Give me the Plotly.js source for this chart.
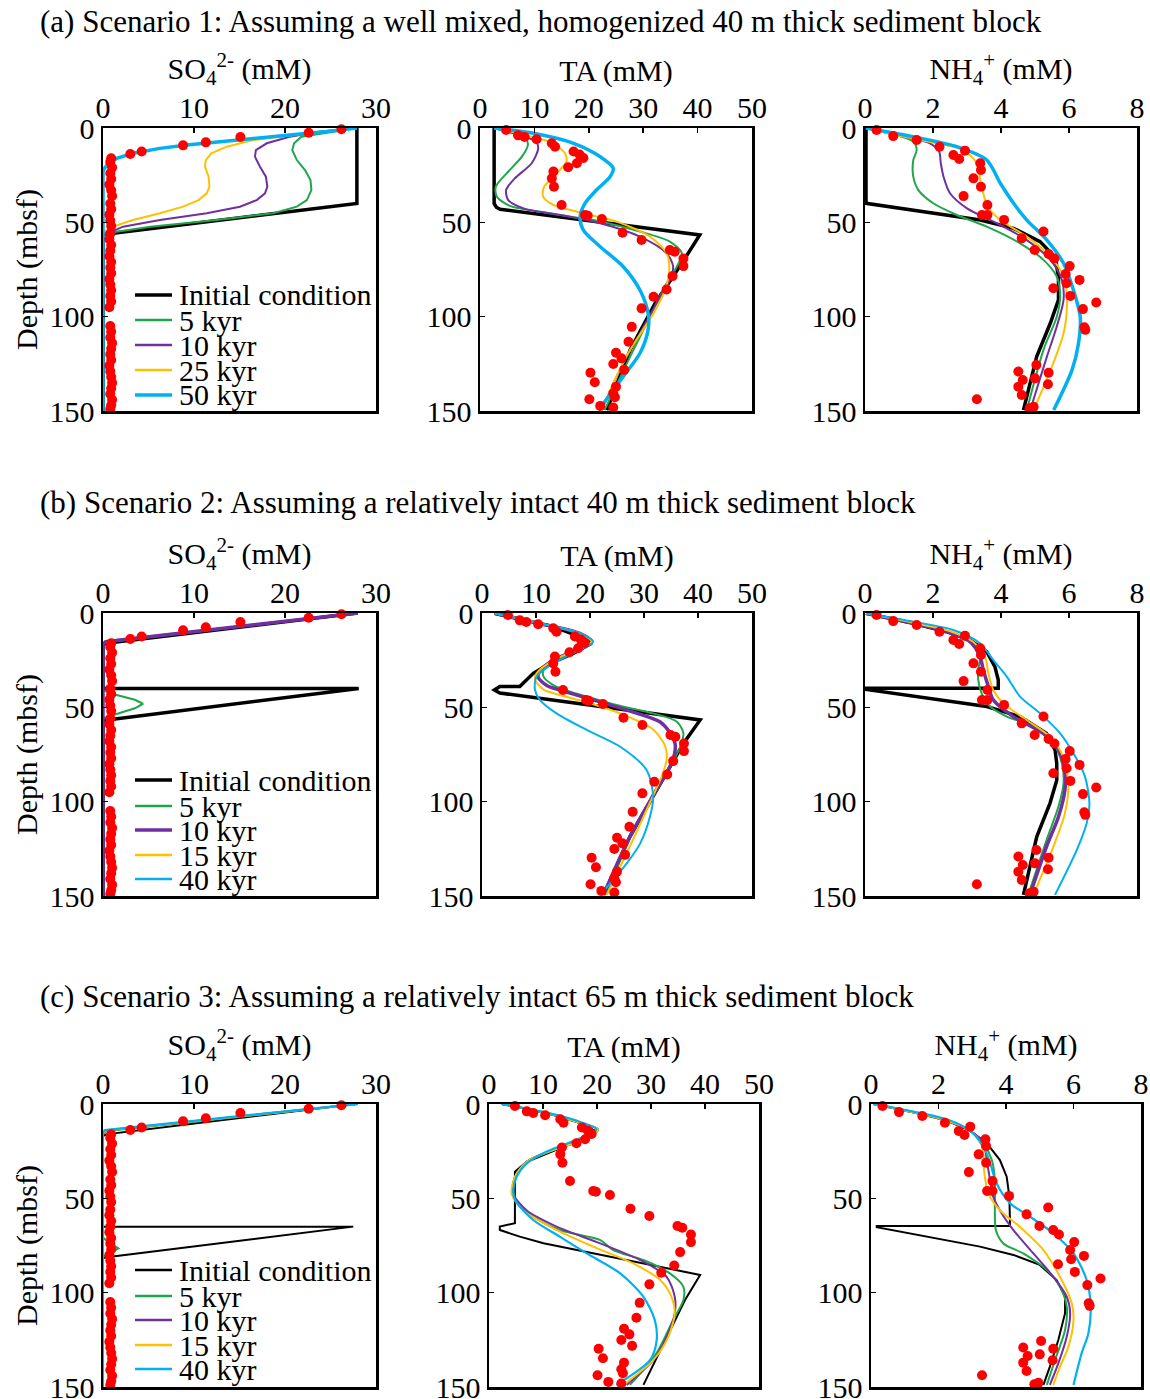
<!DOCTYPE html>
<html>
<head>
<meta charset="utf-8">
<script src="https://cdn.plot.ly/plotly-3.0.1.min.js"></script>
<style>html,body{margin:0;padding:0;background:#fff;}#chart{width:1150px;height:1399px;}</style>
</head>
<body>
<div id="chart"></div>
<script>
// ---------------- DATA ----------------
// Observations (same in all scenarios)
const obsSO4_d = [0.7,2.5,4.8,7.6,9.2,12.5,13.8,16,18,21,24,27,30,33,36,40,43,46,49,52,56,59,62,65,68,71,74,77,80,83,86,89,92,95,105,108,111,114,117,120,123,126,129,132,135,138,141,144,147,149];
const obsSO4   = [26.2,22.6,15.1,11.3,8.8,4.25,3.0,0.9,0.8,1.0,0.8,0.9,0.7,0.9,1.0,0.8,0.9,0.7,0.8,0.9,0.8,0.7,0.9,0.8,0.7,0.9,0.8,0.9,0.7,0.8,0.9,0.8,0.9,0.7,0.8,0.9,0.8,1.0,0.9,0.8,0.9,0.7,0.8,0.9,1.0,0.9,0.8,1.0,0.9,0.8];
const obsTA_d  = [1.1,3.9,4.8,6.0,8.1,9.9,12.5,14.1,15.9,18.7,20.8,23.1,26.7,31.1,40.8,46.1,46.5,48.2,55.5,59.4,64.7,65.6,69.2,73.2,78.5,85.6,89.4,95.6,105.4,113.3,119.1,122.1,125.1,128.2,129.7,134.8,137.1,140.6,142.7,143.8,147.3,148.1];
const obsTA    = [4.8,7.0,8.2,10.4,13.2,13.8,17.2,18.3,19.0,17.8,16.2,13.5,13.2,13.6,15.0,19.3,19.8,22.4,26.2,29.7,34.9,35.8,37.4,37.4,35.4,34.3,31.9,29.7,27.9,27.3,25.0,26.0,24.5,26.5,20.3,21.1,25.0,24.5,24.8,20.1,22.1,24.5];
const obsNH4_d = [1.1,4.3,6.4,9.9,12.0,14.3,16.4,18.7,22.3,26.7,31.1,36.1,40.8,46.1,46.1,48.7,54.9,58.5,64.7,66.8,69.2,73.2,77.4,80.5,82.3,84.9,89.0,92.5,96.0,105.6,107.0,125.6,129.1,129.7,132.7,133.6,135.8,137.1,141.5,143.8,147.8,148.6];
const obsNH4   = [0.34,0.83,1.52,2.19,2.94,2.6,2.77,3.39,3.41,3.19,3.41,2.9,3.6,3.44,3.6,4.09,5.25,4.61,4.99,5.4,5.57,6.02,5.9,6.31,5.93,5.54,6.04,6.8,6.41,6.45,6.48,5.04,4.51,5.4,5.0,4.64,5.38,4.51,4.61,3.29,4.96,4.84];

// Scenario 1 (a)
const a_so4_init_c = [27.9,27.9,0,0];                 const a_so4_init_d = [0,40,56.5,150];
const a_so4_5_c  = [27.9,24.5,21.8,21.0,20.8,21.3,22.2,22.8,22.9,22.4,21.3,18.7,12.5,5.2,0.4,0,0];
const a_so4_5_d  = [0,2.5,4.6,8.1,11.7,17,22.3,27.6,32.9,38.2,41.7,45.2,48.8,52.3,55.8,57,150];
const a_so4_10_c = [27.9,24,20.5,18.0,16.8,16.7,17.25,17.9,18.06,17.8,16.9,15.05,11.4,6.26,2.2,0.4,0,0];
const a_so4_10_d = [0,1.8,4.6,8.1,11.7,15.2,20.5,25.8,31.1,34.6,38.2,41.7,45.2,48.8,52.3,55.8,57,150];
const a_so4_25_c = [27.9,23,16.5,13.6,11.9,11.3,11.2,11.6,11.7,11.4,10.5,8.8,6.26,3.3,1.1,0.15,0,0];
const a_so4_25_d = [0,2.5,6.4,9.9,13.4,17.0,20.5,25.8,31.1,34.6,38.2,41.7,45.2,48.8,52.3,54.9,56,150];
const a_so4_50_c = [27.9,24.6,20.5,16.5,12.5,9.2,6.26,3.3,1.5,0.6,0.15,0,0];
const a_so4_50_d = [0,1.9,3.7,5.5,7.2,9.0,10.8,13.4,16.1,18.7,21.4,23,150];

const a_ta_init_c = [2.6,2.6,3.0,3.7,40.4,37.1,32.2,27.6,23.3];
const a_ta_init_d = [0,40,42,43.1,56.7,71.7,92.9,117.6,149.5];
const a_ta_5_c  = [2.6,6.1,8.3,8.8,7.7,4.9,2.9,3.1,5.5,12.9,22.1,29.4,34.9,37.1,36.2,34.3,31.25,27.6,22.9];
const a_ta_5_d  = [0,2.8,4.9,9.0,15.2,24.0,31.1,36.4,41.3,45.2,49.6,54.9,60.2,66.4,73.4,82.3,100,121.2,149.5];
const a_ta_10_c = [2.6,7.35,10.3,10.7,9.5,6.4,4.8,5.2,8.0,14.7,22.1,29.4,34.3,35.5,34.9,33.1,29.4,25.7,22.4];
const a_ta_10_d = [0,3.9,7.2,10.8,18.7,26.7,32.9,38.2,42.6,46.1,50.5,57.6,66.4,73.4,80.5,89.4,108.8,128.2,149.5];
const a_ta_25_c = [2.6,8.6,13.5,15.6,15.9,14.1,11.8,11.6,13.5,19.0,25.1,31.25,34.3,34.8,34.0,31.9,27.6,24.5,22.4];
const a_ta_25_d = [0,3.9,8.1,13.4,17.8,24.0,31.1,36.4,40.8,45.2,49.6,57.6,66.4,75.2,85.9,98.2,117.6,135.3,149.5];
const a_ta_50_c = [2.6,9.8,17.2,22.1,24.5,23.9,21.4,19.3,18.4,19.0,22.1,26.3,29.4,30.9,30.9,29.4,26.3,21.8];
const a_ta_50_d = [0,2.8,8.1,15.2,21.4,25.8,32.9,39.9,47.0,54.1,62.9,73.4,85.9,98.2,107.0,119.4,131.8,149.5];

const a_nh4_init_c = [0.03,0.03,3.39,4.37,5.15,5.6,5.69,5.69,5.45,5.05,4.66];
const a_nh4_init_d = [0,39.9,48.8,53.2,60.2,68.7,79.3,91.1,103.5,121.2,149.5];
const a_nh4_5_c  = [0.03,0.74,1.42,1.52,1.42,1.42,1.57,2.01,2.7,3.58,4.56,5.25,5.64,5.74,5.64,5.25,4.76];
const a_nh4_5_d  = [0,2.8,7.2,11.7,17.0,25.8,32.9,39.9,46.1,52.3,61.1,69.9,78.8,89.4,100,117.6,149.5];
const a_nh4_10_c = [0.03,0.93,1.91,2.18,2.23,2.31,2.5,3.0,3.88,4.76,5.45,5.79,5.84,5.64,5.35,4.86];
const a_nh4_10_d = [0,3.9,8.1,12.5,18.7,25.8,34.6,42.6,50.5,59.4,69.9,80.5,91.1,105.2,121.2,149.5];
const a_nh4_25_c = [0.03,0.93,2.11,2.9,3.29,3.39,3.48,3.6,3.98,4.76,5.45,5.84,5.94,5.84,5.5,4.96];
const a_nh4_25_d = [0,3.9,8.1,11.7,18.7,27.6,34.6,41.6,48.8,57.6,68.1,78.8,92.9,108.8,126.4,149.5];
const a_nh4_50_c = [0.03,1.42,2.7,3.58,3.98,4.37,4.76,5.35,5.84,6.13,6.33,6.28,6.09,5.55];
const a_nh4_50_d = [0,4.6,9.9,17.0,29.3,39.9,48.8,59.4,71.7,85.9,100,114.1,128.2,149.5];

// Scenario 2 (b)
const b_so4_init_c = [28,0.3,0,0,28.1,0.1,0,0];       const b_so4_init_d = [0,16,17,40,40,56.5,57,150];
const b_so4_5_c  = [28,0.3,0,0,1.5,3.5,4.4,3.5,1.5,0,0]; const b_so4_5_d = [0,15.5,17,41,43.5,46,48.1,50.5,53.5,56,150];
const b_so4_10_c = [28,0.3,0,0];                      const b_so4_10_d = [0,15.2,16.5,150];
const b_so4_15_c = [28,0.3,0,0];                      const b_so4_15_d = [0,15.2,16.5,150];
const b_so4_40_c = [28,0.3,0,0];                      const b_so4_40_d = [0,15,16.5,150];

const b_ta_init_c = [2.3,13.2,18.1,20.3,16.9,12.6,9.5,7.65,7.0,3.3,2.3,3.3,40.4,37.3,32.3,27.4,22.5];
const b_ta_init_d = [0.2,7.2,12.5,16.0,21.4,26.7,32.0,37.3,39.0,39.0,40.8,42.4,56.7,69.1,93.8,118.5,149.4];
const b_ta_5_c  = [2.3,9.5,15.7,19.4,20.3,18.1,13.8,11.4,11.4,13.2,16.3,19.4,24.9,31.7,36.1,37.3,36.7,35.2,32.3,28.0,23.1];
const b_ta_5_d  = [0.2,4.6,9.0,12.5,15.2,18.5,24.9,30.2,33.7,38.2,41.7,44.3,48.8,53.2,57.6,63.8,70.9,79.7,93.8,115,149.4];
const b_ta_10_c = [2.3,10.7,18.1,20.3,17.5,13.2,10.7,10.4,12.0,15.7,21.9,28.0,33.0,35.1,35.8,35.1,32.3,27.4,22.5];
const b_ta_10_d = [0.2,5.5,10.8,15.2,19.6,25.1,30.7,34.0,38.4,41.9,47.2,52.5,57.8,64.9,70.2,79.7,93.8,118.5,149.4];
const b_ta_15_c = [2.3,10.7,18.1,20.3,17.5,13.2,10.1,9.8,11.4,15.1,20.6,26.8,31.7,33.9,34.2,33.3,31.1,28.0,23.1];
const b_ta_15_d = [0.2,5.5,10.8,15.2,19.6,25.1,32.0,35.3,40.6,44.0,48.4,54.6,61.7,70.5,77.6,86.4,100.5,119.9,149.4];
const b_ta_40_c = [2.3,10.7,18.1,20.6,18.1,13.2,10.1,9.8,10.7,13.8,19.4,25.6,30.5,31.7,31.1,29.3,26.8,21.9];
const b_ta_40_d = [0.2,5.5,10.8,15.2,19.6,26.7,33.7,40.6,46.0,53.2,62.0,70.9,83.3,97.4,108.0,122.1,132.7,149.4];

const b_nh4_init_c = [0.03,1.42,2.4,3.09,3.58,3.82,3.92,3.92,0.03,0.03,3.58,4.56,5.34,5.59,5.64,5.64,5.44,5.05,4.66];
const b_nh4_init_d = [0.2,5.5,9.9,14.3,20.5,28.4,35.5,39.9,39.9,40.5,49.6,54.9,63.8,72.6,79.7,88.6,100.9,118.6,149.4];
const b_nh4_5_c  = [0.03,1.42,2.4,3.09,3.38,3.33,3.33,3.43,3.68,4.17,4.95,5.54,5.79,5.84,5.69,5.34,4.8];
const b_nh4_5_d  = [0.2,5.5,9.9,15.2,23.1,30.2,35.5,42.6,49.6,54.9,60.2,69.1,79.7,90.3,102.6,120.3,149.4];
const b_nh4_10_c = [0.03,1.42,2.4,3.09,3.38,3.48,3.63,3.77,4.36,5.24,5.69,5.88,5.88,5.69,5.34,4.85];
const b_nh4_10_d = [0.2,5.5,9.9,15.2,23.1,30.2,39.0,46.0,54.9,63.8,72.6,83.3,93.8,108,123.8,149.4];
const b_nh4_15_c = [0.03,1.42,2.55,3.18,3.53,3.63,3.77,4.07,4.75,5.44,5.83,5.98,5.88,5.54,4.95];
const b_nh4_15_d = [0.2,5.2,9.9,15.2,23.1,32,40.8,47.9,56.7,65.5,76.2,90.3,106.2,123.8,149.4];
const b_nh4_40_c = [0.03,1.42,2.6,3.38,3.77,4.17,4.56,5.15,5.74,6.13,6.47,6.6,6.52,6.23,5.59];
const b_nh4_40_d = [0.2,4.6,9.0,16.0,24.9,33.7,44.3,53.2,63.8,74.4,86.7,100.9,111.5,125.6,149.4];

// Scenario 3 (c)
const c_so4_init_c = [27.7,0.33,0,0,27.5,0.2,0,0];    const c_so4_init_d = [0,16.1,17,65,65,81.3,82,150];
const c_so4_5_c  = [28,0.3,0,0,1.7,0,0];              const c_so4_5_d  = [0,14.5,16,71,76.5,81,150];
const c_so4_10_c = [28,0.3,0,0];                      const c_so4_10_d = [0,14,15.5,150];
const c_so4_15_c = [28,0.3,0,0];                      const c_so4_15_d = [0,14,15.5,150];
const c_so4_40_c = [28,0.2,0,0];                      const c_so4_40_d = [0,13.8,15,150];

const c_ta_init_c = [2.35,10.7,16.9,19.9,16.9,10.7,7.0,4.8,4.8,2.0,2.0,5.7,10.1,39.1,36.3,28.6];
const c_ta_init_d = [0,4.8,10.1,14.5,19.1,26.1,30.6,35.9,63.2,65.0,66.8,70.3,73.8,90.6,103.9,148.9];
const c_ta_5_c  = [2.35,10.7,16.9,20.2,18.1,11.9,7.0,4.8,4.5,5.1,8.2,13.1,20.6,23.0,28.6,33.5,36.0,36.0,34.1,31.0,26.1];
const c_ta_5_d  = [0,4.8,10.1,13.4,18.2,24.4,30.6,38.7,45.8,51.7,59.7,66.8,72.1,77.4,82.7,89.8,96.9,103.9,114.5,132.2,148.9];
const c_ta_10_c = [2.35,10.7,16.9,20.2,18.1,11.9,7.0,4.8,4.5,7.0,12.5,20.6,28.0,32.9,34.4,34.4,32.9,30.4,25.5];
const c_ta_10_d = [0,4.8,10.1,13.4,18.2,24.4,30.6,38.7,47.6,56.5,65.0,73.9,82.7,91.6,102.2,111.0,123.4,135.8,148.9];
const c_ta_15_c = [2.35,10.7,16.9,20.2,18.1,11.9,7.0,4.8,4.2,6.4,11.9,19.3,26.7,31.7,33.8,34.4,33.2,30.4,24.9];
const c_ta_15_d = [0,4.8,10.1,13.4,18.2,24.4,30.6,38.7,47.6,56.5,65.9,75.6,84.5,93.3,102.2,111,123.4,135.8,148.9];
const c_ta_40_c = [2.35,10.7,16.9,19.9,16.9,10.7,7.0,5.1,4.5,4.8,8.2,13.1,18.1,24.3,28.6,30.7,31.05,29.8,23.6];
const c_ta_40_d = [0,4.6,9.5,13.4,18.2,25.2,31.5,38.7,45.8,50.8,61.5,70.3,79.2,89.8,102.2,114.5,125.1,135.8,148.9];

const c_nh4_init_c = [0.07,1.25,2.24,2.93,3.43,3.82,4.02,4.1,4.12,0.17,0.17,3.23,4.22,5.0,5.5,5.75,5.75,5.55,5.3,5.11];
const c_nh4_init_d = [0,4.4,8.8,14.1,20.8,29.7,38.5,49.1,64.6,64.6,65.3,75.6,80,85.3,93.3,102.1,110.9,125.1,139.2,148.9];
const c_nh4_5_c  = [0.07,1.25,2.24,2.93,3.33,3.58,3.67,3.67,3.7,3.92,4.51,5.21,5.6,5.8,5.75,5.45,5.21];
const c_nh4_5_d  = [0,4.4,8.8,14.1,20.8,29.7,40.3,54.4,66.8,73.9,79.2,88.0,96.9,107.5,119.8,135.8,148.9];
const c_nh4_10_c = [0.07,1.25,2.24,2.93,3.33,3.43,3.51,3.62,3.87,4.22,4.81,5.4,5.8,5.9,5.8,5.55,5.3];
const c_nh4_10_d = [0,4.4,8.8,14.1,20.8,29.7,38.5,49.1,57.9,66.8,79.2,91.5,102.1,110.9,123.4,137.5,148.9];
const c_nh4_15_c = [0.07,1.25,2.24,2.93,3.25,3.33,3.35,3.48,3.82,4.41,5.11,5.65,5.95,6.0,5.85,5.6,5.4];
const c_nh4_15_d = [0,4.4,8.8,14.1,20.8,26.3,35.2,47.5,56.3,65.1,77.4,93.3,105.7,114.5,128.6,139.2,148.9];
const c_nh4_40_c = [0.07,1.25,2.3,2.93,3.33,3.53,3.72,4.12,4.71,5.4,6.0,6.39,6.51,6.44,6.24,6.0];
const c_nh4_40_d = [0,4.0,8.5,14.1,22.6,31.4,42.0,52.6,59.7,68.5,79.2,93.3,107.5,121.6,132.2,148.9];

// Labels
const scenarioTitles = [
  '(a) Scenario 1: Assuming a well mixed, homogenized 40 m thick sediment block',
  '(b) Scenario 2: Assuming a relatively intact 40 m thick sediment block',
  '(c) Scenario 3: Assuming a relatively intact 65 m thick sediment block'
];
const speciesTitles = ['SO<sub>4</sub><sup>2-</sup> (mM)', 'TA (mM)', 'NH<sub>4</sub><sup>+</sup> (mM)'];
const legendNames = [
  ['Initial condition','5 kyr','10 kyr','25 kyr','50 kyr'],
  ['Initial condition','5 kyr','10 kyr','15 kyr','40 kyr'],
  ['Initial condition','5 kyr','10 kyr','15 kyr','40 kyr']
];
const xTicks = [[0,10,20,30],[0,10,20,30,40,50],[0,2,4,6,8]];
const xRanges = [[0,30],[0,50],[0,8]];
const yTicks = [0,50,100,150];

// ---------------- STYLE / LAYOUT ----------------
const W = 1150, H = 1399;
const FONT = '"Liberation Serif", "Times New Roman", serif';
const FS = 30;
const COLORS = ['#000000','#1fa64a','#7030a0','#ffc000','#00b0f0'];
const RED = '#ff0000';
const widths = [[3.5,2,2,2,3.5],[3.5,2,3.5,2,2],[2,2,2,2,2.2]];
const legWidths = [[3.5,2.5,2.5,2.5,3.5],[3.5,2.5,3.5,2.5,2.5],[2.5,2.5,2.5,2.5,2.5]];

const rowsY = [[128,411],[613,896],[1104,1387]];
const colsX = [
  [[103,376],[480,752],[865,1137]],
  [[103,376],[482,752],[865,1137]],
  [[103,376],[489,759],[871,1141]]
];

const curves = [
  [
    [[a_so4_init_c,a_so4_init_d],[a_so4_5_c,a_so4_5_d],[a_so4_10_c,a_so4_10_d],[a_so4_25_c,a_so4_25_d],[a_so4_50_c,a_so4_50_d]],
    [[a_ta_init_c,a_ta_init_d],[a_ta_5_c,a_ta_5_d],[a_ta_10_c,a_ta_10_d],[a_ta_25_c,a_ta_25_d],[a_ta_50_c,a_ta_50_d]],
    [[a_nh4_init_c,a_nh4_init_d],[a_nh4_5_c,a_nh4_5_d],[a_nh4_10_c,a_nh4_10_d],[a_nh4_25_c,a_nh4_25_d],[a_nh4_50_c,a_nh4_50_d]]
  ],
  [
    [[b_so4_init_c,b_so4_init_d],[b_so4_5_c,b_so4_5_d],[b_so4_10_c,b_so4_10_d],[b_so4_15_c,b_so4_15_d],[b_so4_40_c,b_so4_40_d]],
    [[b_ta_init_c,b_ta_init_d],[b_ta_5_c,b_ta_5_d],[b_ta_10_c,b_ta_10_d],[b_ta_15_c,b_ta_15_d],[b_ta_40_c,b_ta_40_d]],
    [[b_nh4_init_c,b_nh4_init_d],[b_nh4_5_c,b_nh4_5_d],[b_nh4_10_c,b_nh4_10_d],[b_nh4_15_c,b_nh4_15_d],[b_nh4_40_c,b_nh4_40_d]]
  ],
  [
    [[c_so4_init_c,c_so4_init_d],[c_so4_5_c,c_so4_5_d],[c_so4_10_c,c_so4_10_d],[c_so4_15_c,c_so4_15_d],[c_so4_40_c,c_so4_40_d]],
    [[c_ta_init_c,c_ta_init_d],[c_ta_5_c,c_ta_5_d],[c_ta_10_c,c_ta_10_d],[c_ta_15_c,c_ta_15_d],[c_ta_40_c,c_ta_40_d]],
    [[c_nh4_init_c,c_nh4_init_d],[c_nh4_5_c,c_nh4_5_d],[c_nh4_10_c,c_nh4_10_d],[c_nh4_15_c,c_nh4_15_d],[c_nh4_40_c,c_nh4_40_d]]
  ]
];
const obs = [[obsSO4,obsSO4_d],[obsTA,obsTA_d],[obsNH4,obsNH4_d]];

const traces = [];
const layout = {
  width: W, height: H, margin: {l:0,r:0,t:0,b:0},
  paper_bgcolor:'#fff', plot_bgcolor:'#fff', showlegend:false,
  font:{family:FONT, size:FS, color:'#000'},
  annotations:[], shapes:[]
};
const px = x => x / W;
const py = y => 1 - y / H;

for (let r = 0; r < 3; r++) {
  for (let c = 0; c < 3; c++) {
    const k = r*3 + c + 1;
    const xa = k === 1 ? 'x' : 'x' + k;
    const ya = k === 1 ? 'y' : 'y' + k;
    const [x0,x1] = colsX[r][c];
    const [y0,y1] = rowsY[r];
    layout['xaxis' + (k===1?'':k)] = {
      domain:[px(x0), px(x1)], anchor: ya, side:'top', range: xRanges[c],
      tickmode:'array', tickvals: xTicks[c], ticks:'inside', ticklen:5, tickwidth:1.5, tickcolor:'#000',
      ticklabelstandoff:-4, ticklabeloverflow:'allow',
      showline:true, linewidth:2.5, linecolor:'#000', mirror:true, showgrid:false, zeroline:false,
      tickfont:{family:FONT, size:FS, color:'#000'},
      title:{text: speciesTitles[c], font:{family:FONT, size:FS, color:'#000'}, standoff:0},
      automargin:false, fixedrange:true
    };
    layout['yaxis' + (k===1?'':k)] = {
      domain:[py(y1), py(y0)], anchor: xa, range:[150,0],
      tickmode:'array', tickvals: yTicks, ticks:'inside', ticklen:5, tickwidth:1.5, tickcolor:'#000',
      ticklabeloverflow:'allow',
      showline:true, linewidth:2.5, linecolor:'#000', mirror:true, showgrid:false, zeroline:false,
      tickfont:{family:FONT, size:FS, color:'#000'},
      title: c === 0 ? {text:'Depth (mbsf)', font:{family:FONT, size:FS, color:'#000'}, standoff:3} : {text:''},
      automargin:false, fixedrange:true
    };
    let order = [0,1,2,3,4];
    if (r === 1 && c === 0) order = [0,1,3,4,2];
    order.forEach(i => {
      const [cx, cd] = curves[r][c][i];
      const sharp = (i === 0) || (c === 0);
      traces.push({
        type:'scatter', mode:'lines', x: cx, y: cd, xaxis: xa, yaxis: ya,
        name: legendNames[r][i], hoverinfo:'skip',
        line:{color: COLORS[i], width: widths[r][i], shape: sharp ? 'linear' : 'spline', smoothing: 0.8}
      });
    });
    traces.push({
      type:'scatter', mode:'markers', x: obs[c][0], y: obs[c][1], xaxis: xa, yaxis: ya,
      name:'Observed', hoverinfo:'skip', cliponaxis:false,
      marker:{color: RED, size: 10, line:{width:0}}
    });
  }
  layout.annotations.push({
    text: scenarioTitles[r], xref:'paper', yref:'paper', x: px(38), y: py([22,503,996][r]),
    xanchor:'left', yanchor:'middle', showarrow:false, font:{family:FONT, size:31, color:'#000'}
  });
  const legY = [[295,320,345,370,395],[780,806,830,855,879],[1270,1296,1320,1345,1369]][r];
  for (let i = 0; i < 5; i++) {
    layout.shapes.push({type:'line', xref:'paper', yref:'paper', x0: px(135), x1: px(172), y0: py(legY[i]), y1: py(legY[i]),
      line:{color: COLORS[i], width: legWidths[r][i]}});
    layout.annotations.push({text: legendNames[r][i], xref:'paper', yref:'paper', x: px(177), y: py(legY[i]),
      xanchor:'left', yanchor:'middle', showarrow:false, font:{family:FONT, size:FS, color:'#000'}});
  }
}

Plotly.newPlot('chart', traces, layout, {staticPlot:true, displayModeBar:false});
</script>
</body>
</html>
